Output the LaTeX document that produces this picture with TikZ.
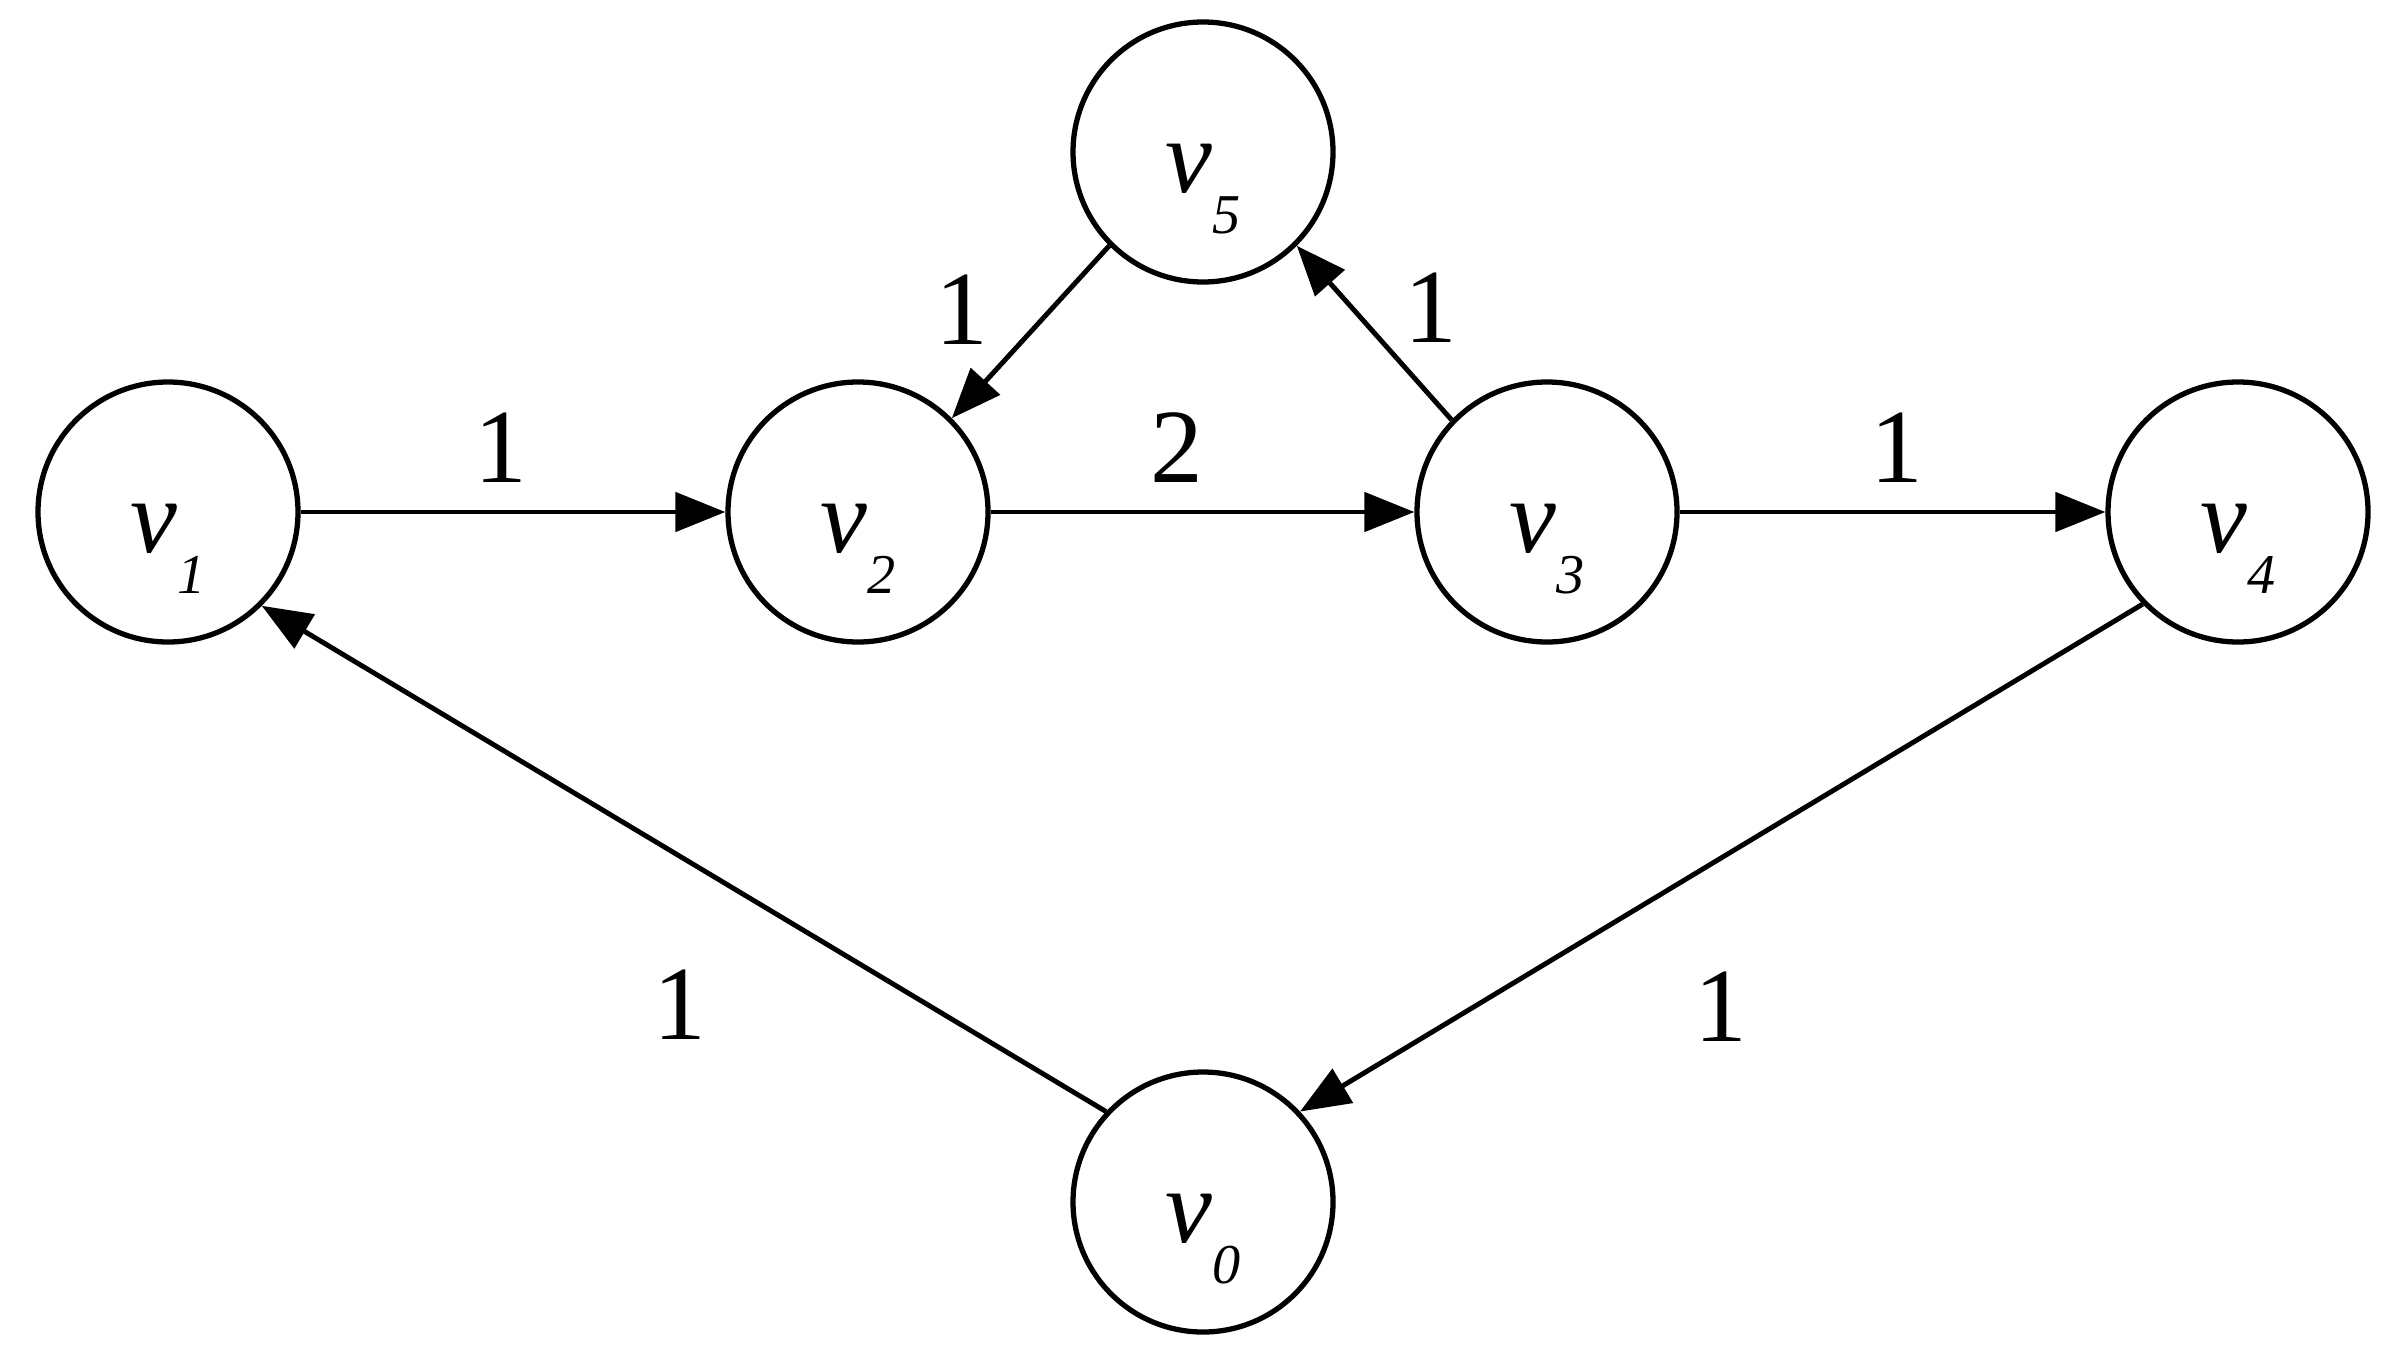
\documentclass[tikz,border=0pt]{standalone}
\usepackage{fontspec}
\setmainfont{Liberation Serif}
\usetikzlibrary{arrows.meta}

\newcommand{\vsub}[1]{\textit{v}\raisebox{-0.41cm}{\fontsize{16}{19}\selectfont\textit{#1}}}

\begin{document}
\begin{tikzpicture}[
    vertex/.style={circle,draw,line width=1.5pt,minimum size=2.6cm,inner sep=0pt,
        text height=1.25cm,text depth=0.45cm,font=\fontsize{30}{36}\selectfont},
    wt/.style={font=\fontsize{30}{36}\selectfont,inner sep=0pt},
    arc/.style={->,>={Triangle[length=5mm,width=3.9mm]},line width=1.4pt}]
  \useasboundingbox (0,0) rectangle (23.94,13.61);

   \draw (1.68,8.49) node[vertex] (v1) {\vsub{1}};
   \draw (8.58,8.49) node[vertex] (v2) {\vsub{2}};
   \draw (15.47,8.49) node[vertex] (v3) {\vsub{3}};
   \draw (22.38,8.49) node[vertex] (v4) {\vsub{4}};
   \draw (12.03,12.09) node[vertex] (v5) {\vsub{5}};
   \draw (12.03,1.59) node[vertex] (v0) {\vsub{0}};

       \path[arc] (v1) edge node[wt,xshift=-0.12cm,yshift=0.64cm] {1} (v2);
       \path[arc] (v2) edge node[wt,xshift=-0.26cm,yshift=0.64cm] {2} (v3);
       \path[arc] (v3) edge node[wt,xshift=0.04cm,yshift=0.64cm] {1} (v4);
       \path[arc] (v5.-135) edge node[wt,xshift=-0.69cm,yshift=0.22cm] {1} (v2.45);
       \path[arc] (v3.136) edge node[wt,xshift=0.57cm,yshift=0.25cm] {1} (v5.-45);
       \path[arc] (v0.137) edge node[wt,xshift=-0.04cm,yshift=-1.46cm] {1} (v1.-45);
       \path[arc] (v4.-136) edge node[wt,xshift=0cm,yshift=-1.49cm] {1} (v0.43);

\end{tikzpicture}
\end{document}
